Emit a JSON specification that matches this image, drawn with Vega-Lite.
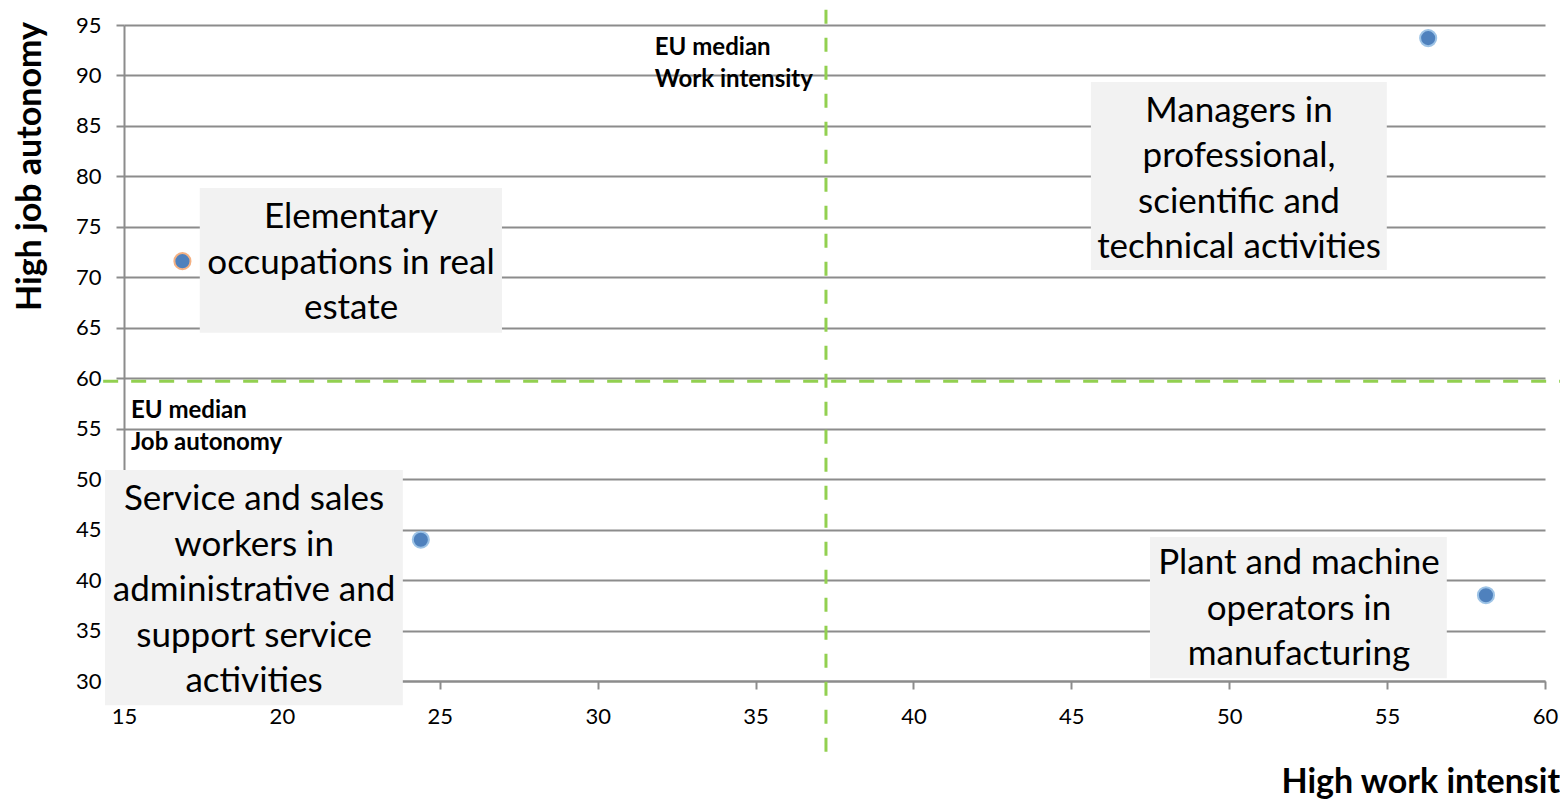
{
  "$schema": "https://vega.github.io/schema/vega-lite/v6.json",
  "width": 1421,
  "height": 656,
  "autosize": "none",
  "padding": {"left": 124, "top": 25, "right": 15, "bottom": 119},
  "background": "white",
  "config": {"view": {"stroke": null}, "font": "Lato"},
  "datasets": {
    "points": [
      {"occupation": "Elementary occupations in real estate", "work_intensity": 16.85, "job_autonomy": 71.6, "outline": "orange"},
      {"occupation": "Managers in professional, scientific and technical activities", "work_intensity": 56.3, "job_autonomy": 93.7, "outline": "blue"},
      {"occupation": "Service and sales workers in administrative and support service activities", "work_intensity": 24.4, "job_autonomy": 44.0, "outline": "blue"},
      {"occupation": "Plant and machine operators in manufacturing", "work_intensity": 58.13, "job_autonomy": 38.5, "outline": "blue"}
    ],
    "boxes": [
      {"label": "Elementary\noccupations in real\nestate", "x1": 17.4, "x2": 26.97, "y1": 78.85, "y2": 64.5, "tx": 22.19, "ty": 75.97},
      {"label": "Managers in\nprofessional,\nscientific and\ntechnical activities", "x1": 45.62, "x2": 54.99, "y1": 89.35, "y2": 70.72, "tx": 50.31, "ty": 86.48},
      {"label": "Service and sales\nworkers in\nadministrative and\nsupport service\nactivities", "x1": 14.4, "x2": 23.83, "y1": 50.9, "y2": 27.6, "tx": 19.12, "ty": 48.02},
      {"label": "Plant and machine\noperators in\nmanufacturing", "x1": 47.49, "x2": 56.89, "y1": 44.26, "y2": 30.28, "tx": 52.21, "ty": 41.68}
    ],
    "medians": [
      {"label": "EU median\nWork intensity", "tx": 31.81, "ty": 92.7},
      {"label": "EU median\nJob autonomy", "tx": 15.22, "ty": 56.8}
    ],
    "vrule": [{"x": 37.23, "y1": 96.5, "y2": 22.65}],
    "hrule": [{"y": 59.7, "x1": 14.34, "x2": 60.5}]
  },
  "layer": [
    {
      "data": {"name": "boxes"},
      "mark": {"type": "rect", "fill": "#f2f2f2"},
      "encoding": {
        "x": {
          "field": "x1", "type": "quantitative",
          "scale": {"domain": [15, 60], "nice": false, "zero": false},
          "axis": {
            "values": [15, 20, 25, 30, 35, 40, 45, 50, 55, 60],
            "grid": false, "labelFlush": false, "labelOverlap": false,
            "domainColor": "#8c8c8c", "domainWidth": 2,
            "tickColor": "#8c8c8c", "tickWidth": 2, "tickSize": 8,
            "labelFont": "Lato", "labelFontSize": 22, "labelColor": "#000", "labelPadding": 17,
            "title": "High work intensity",
            "titleFont": "Lato", "titleFontSize": 34, "titleFontWeight": "bold", "titleColor": "#000",
            "titleX": 1157, "titleY": 111, "titleAlign": "left", "titleBaseline": "alphabetic", "titleAnchor": "start"
          }
        },
        "x2": {"field": "x2"},
        "y": {
          "field": "y1", "type": "quantitative",
          "scale": {"domain": [30, 95], "nice": false, "zero": false},
          "axis": {
            "values": [30, 35, 40, 45, 50, 55, 60, 65, 70, 75, 80, 85, 90, 95],
            "grid": true, "gridColor": "#8c8c8c", "gridWidth": 2, "labelOverlap": false,
            "domainColor": "#8c8c8c", "domainWidth": 2,
            "tickColor": "#8c8c8c", "tickWidth": 2, "tickSize": 8,
            "labelFont": "Lato", "labelFontSize": 22, "labelColor": "#000", "labelPadding": 15,
            "title": "High job autonomy",
            "titleFont": "Lato", "titleFontSize": 34, "titleFontWeight": "bold", "titleColor": "#000",
            "titleX": -84, "titleY": 141, "titleAlign": "center", "titleBaseline": "alphabetic", "titleAngle": 270
          }
        },
        "y2": {"field": "y2"}
      }
    },
    {
      "data": {"name": "boxes"},
      "mark": {"type": "text", "font": "Lato", "fontSize": 35, "lineBreak": "\n", "lineHeight": 45.5, "align": "center", "baseline": "middle", "color": "#000"},
      "encoding": {
        "x": {"field": "tx", "type": "quantitative"},
        "y": {"field": "ty", "type": "quantitative"},
        "text": {"field": "label"}
      }
    },
    {
      "data": {"name": "medians"},
      "mark": {"type": "text", "font": "Lato", "fontSize": 24, "fontWeight": "bold", "lineBreak": "\n", "lineHeight": 32, "align": "left", "baseline": "middle", "color": "#000"},
      "encoding": {
        "x": {"field": "tx", "type": "quantitative"},
        "y": {"field": "ty", "type": "quantitative"},
        "text": {"field": "label"}
      }
    },
    {
      "data": {"name": "vrule"},
      "mark": {"type": "rule", "color": "#92d050", "strokeWidth": 3, "strokeDash": [14, 14]},
      "encoding": {
        "x": {"field": "x", "type": "quantitative"},
        "y": {"field": "y1", "type": "quantitative"},
        "y2": {"field": "y2"}
      }
    },
    {
      "data": {"name": "hrule"},
      "mark": {"type": "rule", "color": "#92d050", "strokeWidth": 3, "strokeDash": [15, 13]},
      "encoding": {
        "y": {"field": "y", "type": "quantitative"},
        "x": {"field": "x1", "type": "quantitative"},
        "x2": {"field": "x2"}
      }
    },
    {
      "data": {"name": "points"},
      "mark": {"type": "point", "filled": true, "shape": "circle", "size": 260, "fill": "#4f81bd", "strokeWidth": 2, "opacity": 1},
      "encoding": {
        "x": {"field": "work_intensity", "type": "quantitative"},
        "y": {"field": "job_autonomy", "type": "quantitative"},
        "stroke": {"field": "outline", "type": "nominal", "scale": {"domain": ["blue", "orange"], "range": ["#9dc3e6", "#f4b183"]}, "legend": null}
      }
    }
  ]
}
